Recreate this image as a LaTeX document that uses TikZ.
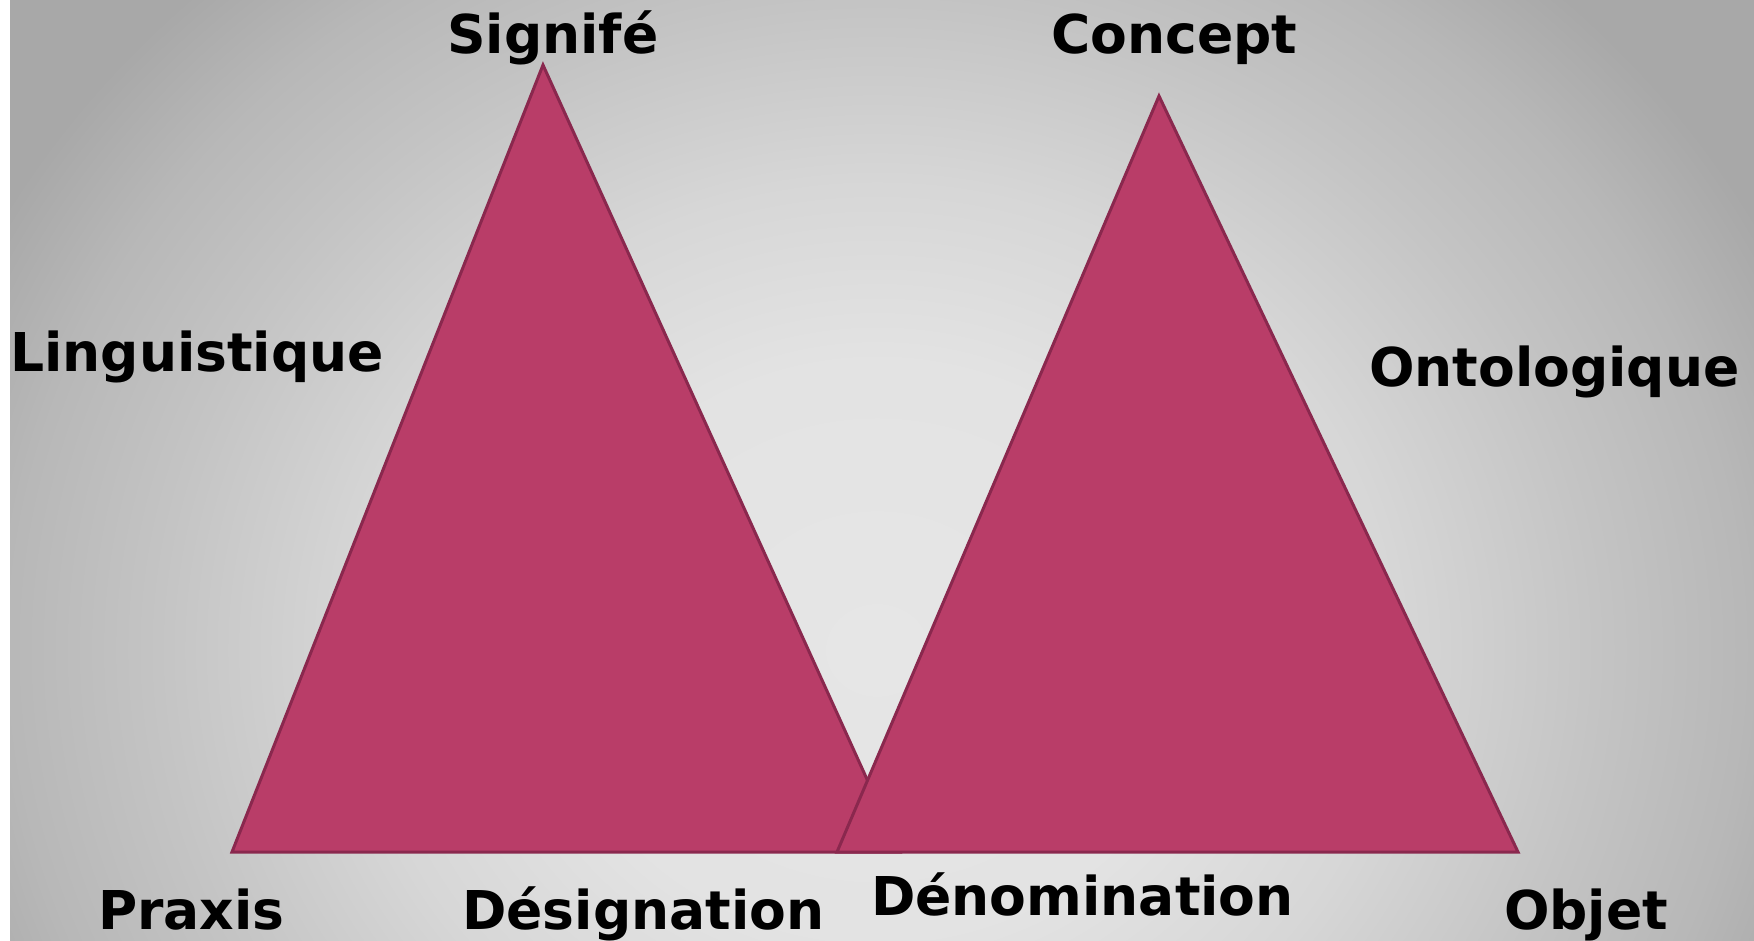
\documentclass[tikz,border=0pt]{standalone}
\usepackage{fontspec}
\setmainfont{DejaVu Sans}
\definecolor{bgmid}{RGB}{230,230,230}
\definecolor{bgedge}{RGB}{168,168,168}
\definecolor{trifill}{RGB}{185,61,104}
\definecolor{triline}{RGB}{138,40,78}
% soft grey glow for the slide background (25bp = edge of the shaded path)
\pgfdeclareradialshading{bgglow}{\pgfpoint{0bp}{0bp}}{%
  color(0bp)=(bgmid);
  color(8bp)=(bgmid!95!bgedge);
  color(13bp)=(bgmid!75!bgedge);
  color(18bp)=(bgmid!45!bgedge);
  color(21.75bp)=(bgmid!25!bgedge);
  color(25bp)=(bgedge);
  color(50bp)=(bgedge)}
\tikzset{
  tri/.style={fill=trifill, draw=triline, line width=3pt, line join=miter},
  lbl/.style={anchor=base west, inner sep=0pt, text=black,
              font=\fontsize{53.5}{64}\selectfont\bfseries},
}
\begin{document}
\begin{tikzpicture}[x=1pt,y=-1pt]
  \useasboundingbox (0,0) rectangle (1754,941);
  \fill[white] (0,0) rectangle (1754,941);
  \begin{scope}
    \clip (10,0) rectangle (1754,941);
    \fill[bgedge] (10,0) rectangle (1754,941);
    \shade[shading=bgglow] (877,650) ellipse [x radius=1000, y radius=900];
  \end{scope}

  % left triangle
  \draw[tri] (543,65) coordinate (s1) -- (232,852) coordinate (p1)
             -- (900,852) coordinate (d1) -- cycle;
  % right triangle
  \draw[tri] (1159,96) coordinate (c2) -- (837,852) coordinate (p2)
             -- (1518,852) coordinate (o2) -- cycle;

  \node[lbl] (signife)  at (447,54)  {Signifé};
  \node[lbl] (concept)  at (1051,54) {Concept};
  \node[lbl] (ling)     at (10,371)  {Linguistique};
  \node[lbl] (onto)     at (1369,386) {Ontologique};
  \node[lbl] (praxis)   at (98,929)  {Praxis};
  \node[lbl] (design)   at (462,929) {Désignation};
  \node[lbl] (denom)    at (871,915) {Dénomination};
  \node[lbl] (objet)    at (1504,929) {Objet};
\end{tikzpicture}
\end{document}
